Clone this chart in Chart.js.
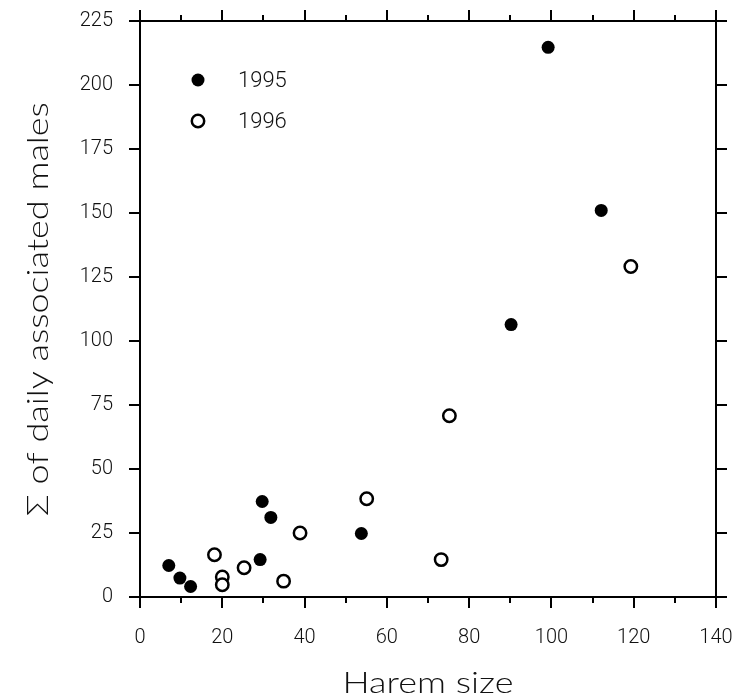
<!DOCTYPE html>
<html>
<head>
<meta charset="utf-8">
<script src="https://cdn.jsdelivr.net/npm/chart.js@4.4.1/dist/chart.umd.min.js"></script>
<style>
  html, body { margin: 0; padding: 0; background: #fff; }
  #wrap { position: relative; width: 733px; height: 700px; }
</style>
</head>
<body>
<div id="wrap"><canvas id="c"></canvas></div>
<script>
// harem size vs. summed daily associated males, per year
const harem1995 = [7.0, 9.7, 12.3, 29.2, 29.7, 31.8, 53.8, 90.2, 99.2, 112.1];
const males1995 = [12.3, 7.4, 4.1, 14.6, 37.3, 31.1, 24.8, 106.4, 214.7, 151.0];
const harem1996 = [18.1, 20.0, 20.0, 25.3, 34.9, 38.9, 55.1, 73.2, 75.2, 119.3];
const males1996 = [16.5, 7.8, 4.8, 11.4, 6.2, 25.0, 38.4, 14.6, 70.8, 129.1];

const xTicks = [0, 20, 40, 60, 80, 100, 120, 140];
const yTicks = [0, 25, 50, 75, 100, 125, 150, 175, 200, 225];
const xMinorStep = 10;

const xTitle = 'Harem size';
const yTitle = '\u03A3 of daily associated males';

const FONT = 'Lato, "Open Sans", sans-serif';
const NUM_FONT = 'Roboto, "DejaVu Sans Condensed", sans-serif';

const pts = (xs, ys) => xs.map((x, i) => ({ x, y: ys[i] }));

// text stretched sideways, to get the wide look of the titles
function wideText(ctx, text, x, y, rot, stretch) {
  ctx.save();
  ctx.translate(x, y);
  ctx.rotate(rot);
  ctx.scale(stretch, 1);
  ctx.fillText(text, 0, 0);
  ctx.restore();
}

// frame, outward ticks on all four sides, titles and the in-plot legend
const framePlugin = {
  id: 'frame',
  afterDraw(chart) {
    const { ctx, chartArea: a, scales: { x, y } } = chart;
    ctx.save();
    ctx.strokeStyle = '#000';
    ctx.lineWidth = 2;
    ctx.strokeRect(a.left, a.top, a.right - a.left, a.bottom - a.top);

    ctx.beginPath();
    for (let v = xTicks[0]; v <= xTicks[xTicks.length - 1]; v += xMinorStep) {
      const px = Math.round(x.getPixelForValue(v));
      const len = v % 20 === 0 ? 11 : 6;
      ctx.moveTo(px, a.bottom); ctx.lineTo(px, a.bottom + len);
      ctx.moveTo(px, a.top); ctx.lineTo(px, a.top - len);
    }
    yTicks.forEach(v => {
      const py = Math.round(y.getPixelForValue(v));
      ctx.moveTo(a.left, py); ctx.lineTo(a.left - 11, py);
      ctx.moveTo(a.right, py); ctx.lineTo(a.right + 11, py);
    });
    ctx.stroke();

    // axis titles
    ctx.fillStyle = '#111';
    ctx.font = '300 30px ' + FONT;
    ctx.textAlign = 'center';
    ctx.textBaseline = 'middle';
    wideText(ctx, xTitle, (a.left + a.right) / 2, 683, 0, 1.2);
    wideText(ctx, yTitle, 38, (a.top + a.bottom) / 2, -Math.PI / 2, 1.2);

    // legend
    ctx.font = '300 22px ' + NUM_FONT;
    chart.data.datasets.forEach((ds, i) => {
      const cx = 198, cy = 80 + i * 41;
      ctx.beginPath();
      ctx.arc(cx, cy, ds.pointRadius, 0, Math.PI * 2);
      ctx.fillStyle = ds.pointBackgroundColor;
      ctx.fill();
      if (ds.pointBorderWidth) {
        ctx.lineWidth = ds.pointBorderWidth;
        ctx.strokeStyle = ds.pointBorderColor;
        ctx.stroke();
      }
      ctx.fillStyle = '#111';
      ctx.textAlign = 'left';
      ctx.fillText(ds.label, 238, cy + 1);
    });
    ctx.restore();
  }
};

new Chart(document.getElementById('c'), {
  type: 'scatter',
  data: {
    datasets: [
      { label: '1995', data: pts(harem1995, males1995),
        pointRadius: 6.5, pointBackgroundColor: '#000', pointBorderColor: '#000', pointBorderWidth: 0 },
      { label: '1996', data: pts(harem1996, males1996),
        pointRadius: 6.2, pointBackgroundColor: '#fff', pointBorderColor: '#000', pointBorderWidth: 2.5 }
    ]
  },
  options: {
    responsive: true,
    maintainAspectRatio: false,
    animation: false,
    layout: { padding: { top: 21, right: 17, left: 0, bottom: 0 } },
    plugins: { legend: { display: false }, tooltip: { enabled: false } },
    scales: {
      x: {
        type: 'linear', min: 0, max: 140,
        afterFit(s) { s.height = 103; s.paddingLeft = 0; s.paddingRight = 0; },
        afterBuildTicks(s) { s.ticks = xTicks.map(v => ({ value: v })); },
        grid: { display: false, drawTicks: false },
        border: { display: false },
        ticks: { color: '#111', padding: 29, font: { family: NUM_FONT, size: 20, weight: 300 } }
      },
      y: {
        type: 'linear', min: 0, max: 225,
        afterFit(s) { s.width = 140; s.paddingTop = 0; s.paddingBottom = 0; },
        afterBuildTicks(s) { s.ticks = yTicks.map(v => ({ value: v })); },
        grid: { display: false, drawTicks: false },
        border: { display: false },
        ticks: { color: '#111', padding: 27, font: { family: NUM_FONT, size: 20, weight: 300 } }
      }
    }
  },
  plugins: [framePlugin]
});
</script>
</body>
</html>
